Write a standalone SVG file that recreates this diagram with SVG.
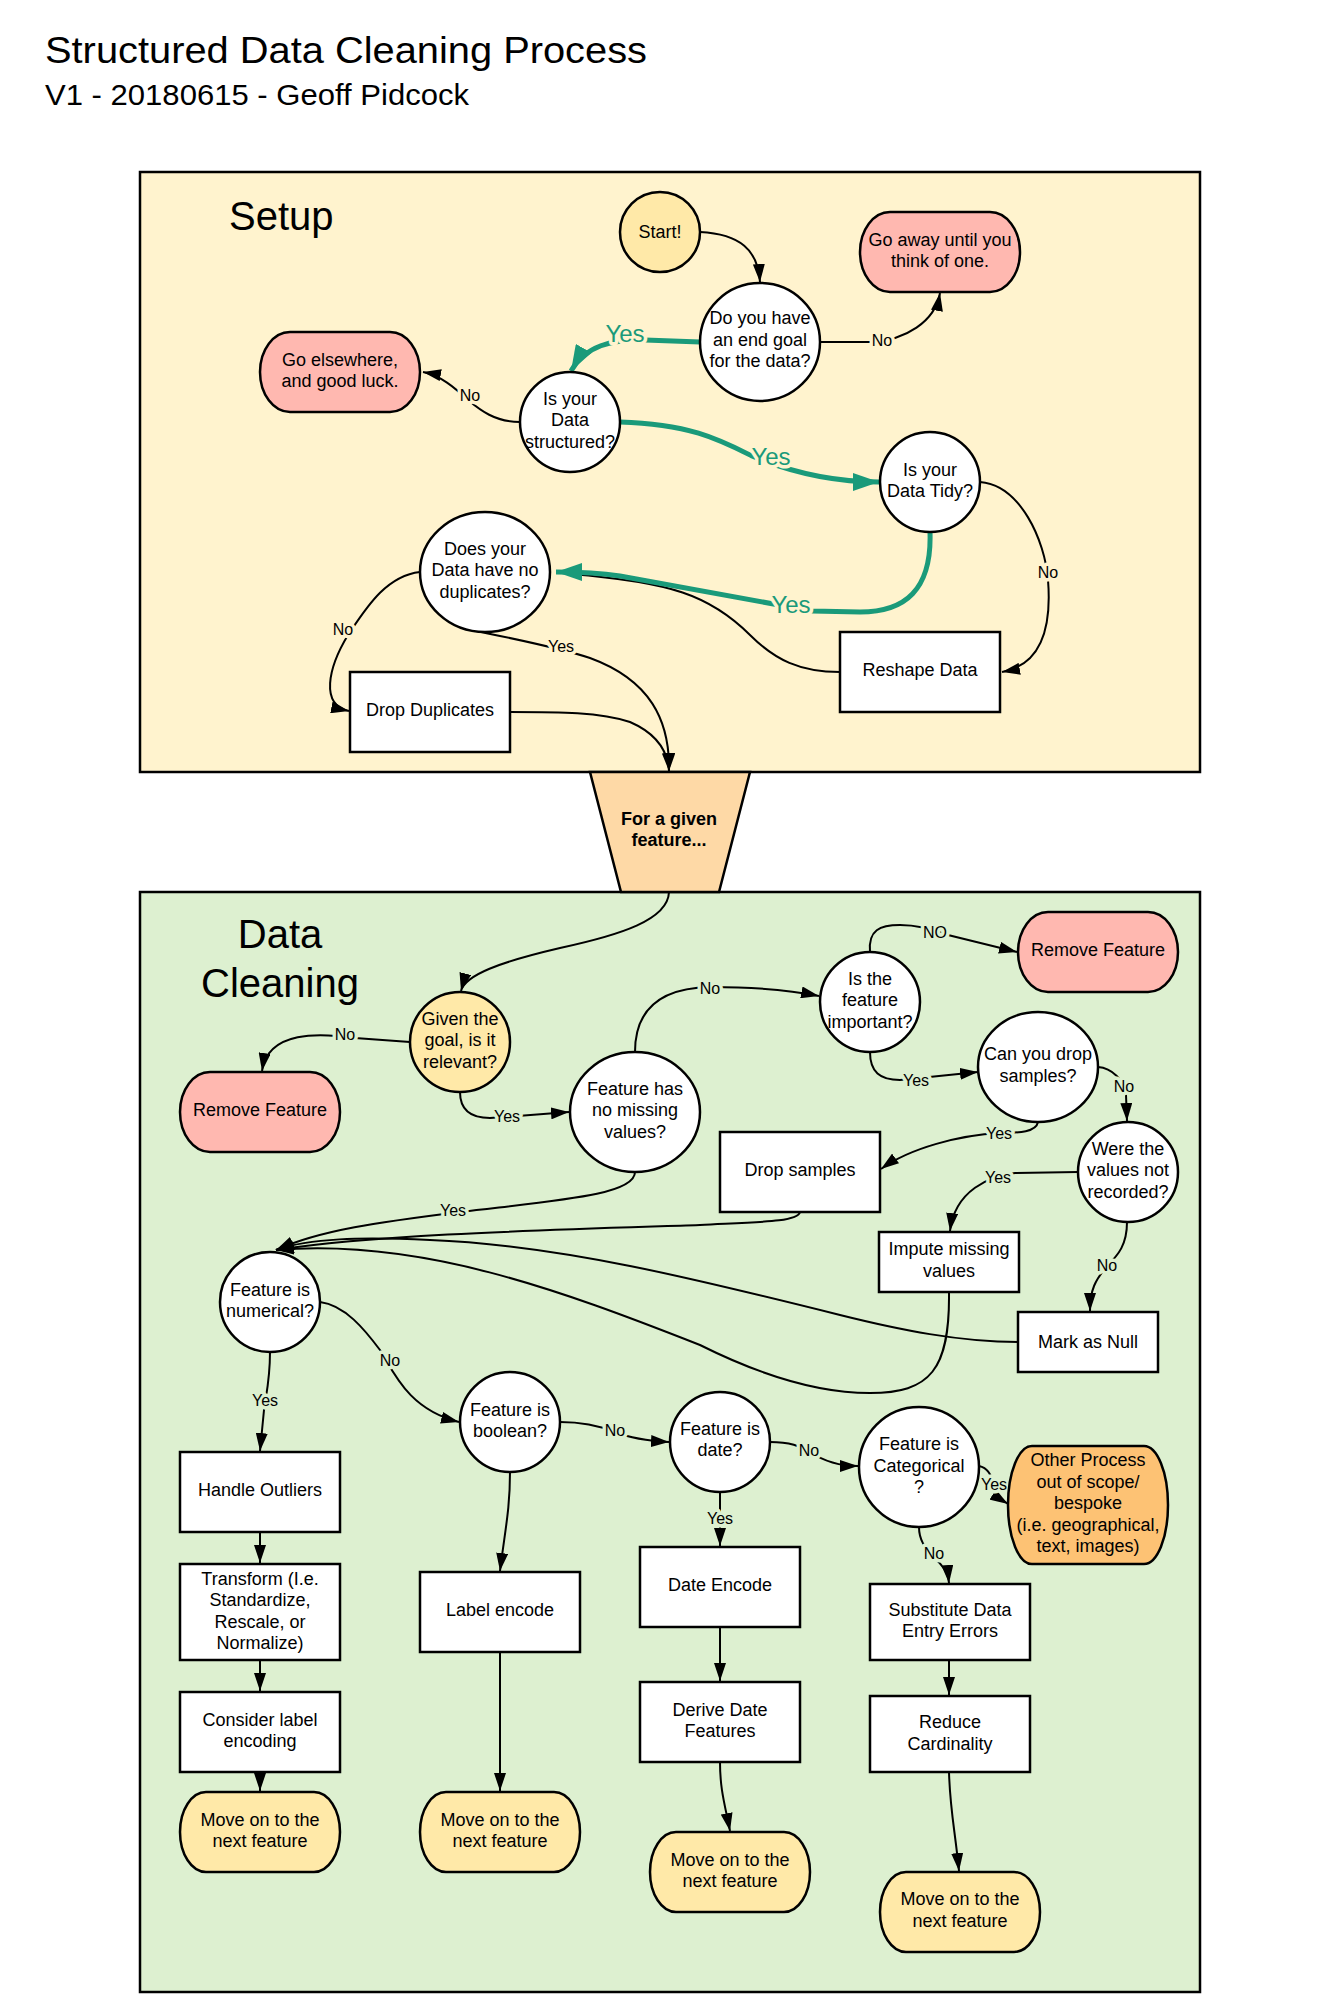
<svg xmlns="http://www.w3.org/2000/svg" width="1323" height="2016" viewBox="0 0 1323 2016">
<style>
text{font-family:"Liberation Sans",Arial,sans-serif;fill:#000}
.t{font-size:18px;text-anchor:middle}
.fb{font-size:18px;font-weight:bold;text-anchor:middle}
.sec{font-size:40px}
.sec2{font-size:40px;text-anchor:middle}
.shape{stroke:#000;stroke-width:2.5}
.w{fill:#fff}
.y{fill:#ffe9a8}
.p{fill:#ffb8b0}
.o{fill:#fdc274}
.c{fill:none;stroke:#000;stroke-width:2}
.g{fill:none;stroke:#1a9a7a;stroke-width:5}
.lbl{font-size:16px;text-anchor:middle;paint-order:stroke;stroke-width:7px;stroke-linejoin:round}
.ly{stroke:#fff3ce}
.lg{stroke:#ddf0d0}
.gy{font-size:24px;text-anchor:middle;fill:#1a9a7a;paint-order:stroke;stroke:#fff3ce;stroke-width:7px;stroke-linejoin:round}
</style>
<defs>
<marker id="ab" markerUnits="userSpaceOnUse" markerWidth="18" markerHeight="12" refX="18" refY="6" orient="auto"><path d="M0,0 L18,6 L0,12 z" fill="#000"/></marker>
<marker id="ag" markerUnits="userSpaceOnUse" markerWidth="26" markerHeight="18" refX="26" refY="9" orient="auto"><path d="M0,0 L26,9 L0,18 z" fill="#1a9a7a"/></marker>
</defs>
<rect width="1323" height="2016" fill="#fff"/>
<text x="45" y="63" style="font-size:36px" textLength="602" lengthAdjust="spacingAndGlyphs">Structured Data Cleaning Process</text>
<text x="45" y="105" style="font-size:29px" textLength="424" lengthAdjust="spacingAndGlyphs">V1 - 20180615 - Geoff Pidcock</text>

<g id="setup-container">
<rect x="140" y="172" width="1060" height="600" fill="#fff3ce" stroke="#000" stroke-width="2.5"/>
<text class="sec" x="229" y="230">Setup</text>
</g>
<g id="cleaning-container">
<rect x="140" y="892" width="1060" height="1100" fill="#ddf0d0" stroke="#000" stroke-width="2.5"/>
<text class="sec2" x="280" y="948">Data</text>
<text class="sec2" x="280" y="997">Cleaning</text>
</g>

<g id="connectors">
<path class="c" marker-end="url(#ab)" d="M700,232 C740,234 758,250 760,282"/>
<path class="c" marker-end="url(#ab)" d="M820,342 L872,342 C905,340 935,322 940,293"/>
<path class="g" marker-end="url(#ag)" d="M700,342 L645,340 C612,339 585,346 571,371"/>
<path class="c" marker-end="url(#ab)" d="M520,422 C495,422 480,410 468,400 C455,388 440,375 423,372"/>
<path class="g" marker-end="url(#ag)" d="M620,422 C690,424 720,440 752,456 C790,472 830,482 879,482"/>
<path class="c" marker-end="url(#ab)" d="M980,482 C1020,485 1045,540 1048,580 C1052,630 1040,665 1002,672"/>
<path class="c" d="M840,672 C800,672 775,660 750,635 C710,595 670,582 570,574"/>
<path class="g" marker-end="url(#ag)" d="M930,532 C932,590 905,612 860,612 L812,611 L620,576 C600,573 580,572 556,572"/>
<path class="c" marker-end="url(#ab)" d="M420,572 C385,576 365,610 348,635 C328,668 320,705 349,711"/>
<path class="c" marker-end="url(#ab)" d="M481,632 C520,640 560,648 590,658 C650,680 670,720 669,771"/>
<path class="c" marker-end="url(#ab)" d="M510,712 C560,712 600,712 630,722 C660,735 668,755 669,771"/>

<path class="c" marker-end="url(#ab)" d="M669,892 C668,920 620,935 560,948 C500,962 465,975 461,991"/>
<path class="c" marker-end="url(#ab)" d="M410,1042 L355,1038 C320,1033 268,1030 262,1071"/>
<path class="c" marker-end="url(#ab)" d="M460,1092 C460,1110 470,1118 490,1118 L569,1112"/>
<path class="c" marker-end="url(#ab)" d="M635,1052 C635,1010 660,988 710,987 C750,987 790,990 819,996"/>
<path class="c" marker-end="url(#ab)" d="M870,952 C868,930 880,925 900,925 C920,925 935,930 948,935 L1017,952"/>
<path class="c" marker-end="url(#ab)" d="M870,1052 C870,1072 880,1080 900,1080 L978,1072"/>
<path class="c" marker-end="url(#ab)" d="M1098,1067 C1112,1068 1124,1080 1126,1095 L1127,1121"/>
<path class="c" marker-end="url(#ab)" d="M1038,1122 C1036,1132 1020,1133 1000,1133 C960,1135 910,1148 881,1169"/>
<path class="c" marker-end="url(#ab)" d="M1078,1172 L1015,1173 C990,1176 955,1190 950,1231"/>
<path class="c" marker-end="url(#ab)" d="M1127,1222 C1127,1245 1118,1255 1108,1265 C1095,1280 1090,1290 1090,1311"/>
<path class="c" marker-end="url(#ab)" d="M635,1172 C635,1195 560,1200 460,1212 C380,1222 320,1230 276,1250"/>
<path class="c" marker-end="url(#ab)" d="M800,1212 C798,1222 760,1222 700,1225 C550,1230 380,1234 276,1250"/>
<path class="c" marker-end="url(#ab)" d="M1018,1342 C960,1342 900,1330 840,1315 C700,1280 560,1245 430,1240 C360,1237 310,1238 276,1250"/>
<path class="c" marker-end="url(#ab)" d="M949,1292 C950,1370 930,1393 870,1393 C820,1393 760,1375 700,1345 C560,1290 420,1238 276,1250"/>
<path class="c" marker-end="url(#ab)" d="M270,1352 C270,1380 266,1395 264,1410 L260,1451"/>
<path class="c" marker-end="url(#ab)" d="M260,1532 L260,1563"/>
<path class="c" marker-end="url(#ab)" d="M260,1660 L260,1691"/>
<path class="c" marker-end="url(#ab)" d="M260,1772 L260,1791"/>
<path class="c" marker-end="url(#ab)" d="M320,1302 C345,1305 365,1330 380,1350 C395,1375 410,1410 459,1422"/>
<path class="c" marker-end="url(#ab)" d="M510,1472 C510,1510 505,1530 500,1571"/>
<path class="c" marker-end="url(#ab)" d="M500,1652 L500,1791"/>
<path class="c" marker-end="url(#ab)" d="M560,1422 C585,1422 600,1426 615,1432 C630,1438 650,1441 669,1442"/>
<path class="c" marker-end="url(#ab)" d="M720,1492 L720,1546"/>
<path class="c" marker-end="url(#ab)" d="M720,1627 L720,1681"/>
<path class="c" marker-end="url(#ab)" d="M720,1762 C720,1790 725,1805 730,1831"/>
<path class="c" marker-end="url(#ab)" d="M770,1442 C790,1442 800,1446 810,1452 C825,1462 840,1466 858,1466"/>
<path class="c" marker-end="url(#ab)" d="M979,1466 C988,1468 992,1476 993,1485 C994,1493 1000,1499 1008,1504"/>
<path class="c" marker-end="url(#ab)" d="M919,1527 C919,1540 925,1548 933,1556 C942,1565 948,1572 949,1583"/>
<path class="c" marker-end="url(#ab)" d="M949,1660 L949,1695"/>
<path class="c" marker-end="url(#ab)" d="M949,1772 C950,1810 955,1830 959,1871"/>

<text class="lbl ly" x="882" y="345.5">No</text>
<text class="gy" x="625" y="341.5">Yes</text>
<text class="lbl ly" x="470" y="401">No</text>
<text class="gy" x="771" y="465">Yes</text>
<text class="lbl ly" x="1048" y="578">No</text>
<text class="gy" x="791" y="613">Yes</text>
<text class="lbl ly" x="343" y="635">No</text>
<text class="lbl ly" x="561" y="652">Yes</text>

<text class="lbl lg" x="345" y="1040">No</text>
<text class="lbl lg" x="507" y="1122">Yes</text>
<text class="lbl lg" x="710" y="994">No</text>
<text class="lbl lg" x="935" y="938">NO</text>
<text class="lbl lg" x="916" y="1086">Yes</text>
<text class="lbl lg" x="1124" y="1092">No</text>
<text class="lbl lg" x="999" y="1139">Yes</text>
<text class="lbl lg" x="998" y="1183">Yes</text>
<text class="lbl lg" x="1107" y="1271">No</text>
<text class="lbl lg" x="453" y="1216">Yes</text>
<text class="lbl lg" x="265" y="1406">Yes</text>
<text class="lbl lg" x="390" y="1366">No</text>
<text class="lbl lg" x="615" y="1436">No</text>
<text class="lbl lg" x="720" y="1524">Yes</text>
<text class="lbl lg" x="809" y="1456">No</text>
<text class="lbl lg" x="994" y="1490">Yes</text>
<text class="lbl lg" x="934" y="1559">No</text>
</g>

<g id="start"><circle class="shape y" cx="660" cy="232" r="40"/><text class="t" x="660" y="238">Start!</text></g>
<g id="end-goal"><ellipse class="shape w" cx="760" cy="342" rx="60" ry="59"/><text class="t" x="760" y="324">Do you have<tspan x="760" dy="21.7">an end goal</tspan><tspan x="760" dy="21.7">for the data?</tspan></text></g>
<g id="go-away"><rect class="shape p" x="860" y="212" width="160" height="80" rx="30" ry="40"/><text class="t" x="940" y="245.5">Go away until you<tspan x="940" dy="21.5">think of one.</tspan></text></g>
<g id="structured"><circle class="shape w" cx="570" cy="422" r="50"/><text class="t" x="570" y="404.5">Is your<tspan x="570" dy="21.5">Data</tspan><tspan x="570" dy="21.5">structured?</tspan></text></g>
<g id="go-elsewhere"><rect class="shape p" x="260" y="332" width="160" height="80" rx="30" ry="40"/><text class="t" x="340" y="365.5">Go elsewhere,<tspan x="340" dy="21.5">and good luck.</tspan></text></g>
<g id="tidy"><circle class="shape w" cx="930" cy="482" r="50"/><text class="t" x="930" y="475.5">Is your<tspan x="930" dy="21.5">Data Tidy?</tspan></text></g>
<g id="duplicates"><ellipse class="shape w" cx="485" cy="572" rx="65" ry="60"/><text class="t" x="485" y="554.5">Does your<tspan x="485" dy="21.5">Data have no</tspan><tspan x="485" dy="21.5">duplicates?</tspan></text></g>
<g id="reshape"><rect class="shape w" x="840" y="632" width="160" height="80"/><text class="t" x="920" y="676">Reshape Data</text></g>
<g id="drop-duplicates"><rect class="shape w" x="350" y="672" width="160" height="80"/><text class="t" x="430" y="716">Drop Duplicates</text></g>
<g id="funnel"><polygon points="590,772 750,772 719,892 621,892" fill="#fed9a6" stroke="#000" stroke-width="2.5"/><text class="fb" x="669" y="825">For a given<tspan x="669" dy="21">feature...</tspan></text></g>

<g id="relevant"><circle class="shape y" cx="460" cy="1042" r="50"/><text class="t" x="460" y="1024.5">Given the<tspan x="460" dy="21.5">goal, is it</tspan><tspan x="460" dy="21.5">relevant?</tspan></text></g>
<g id="remove-feature-1"><rect class="shape p" x="180" y="1072" width="160" height="80" rx="30" ry="40"/><text class="t" x="260" y="1116">Remove Feature</text></g>
<g id="no-missing"><ellipse class="shape w" cx="635" cy="1112" rx="65" ry="60"/><text class="t" x="635" y="1094.5">Feature has<tspan x="635" dy="21.5">no missing</tspan><tspan x="635" dy="21.5">values?</tspan></text></g>
<g id="important"><circle class="shape w" cx="870" cy="1002" r="50"/><text class="t" x="870" y="984.5">Is the<tspan x="870" dy="21.5">feature</tspan><tspan x="870" dy="21.5">important?</tspan></text></g>
<g id="remove-feature-2"><rect class="shape p" x="1018" y="912" width="160" height="80" rx="30" ry="40"/><text class="t" x="1098" y="956">Remove Feature</text></g>
<g id="can-drop"><ellipse class="shape w" cx="1038" cy="1067" rx="60" ry="55"/><text class="t" x="1038" y="1060">Can you drop<tspan x="1038" dy="21.7">samples?</tspan></text></g>
<g id="not-recorded"><circle class="shape w" cx="1128" cy="1172" r="50"/><text class="t" x="1128" y="1154.5">Were the<tspan x="1128" dy="21.5">values not</tspan><tspan x="1128" dy="21.5">recorded?</tspan></text></g>
<g id="drop-samples"><rect class="shape w" x="720" y="1132" width="160" height="80"/><text class="t" x="800" y="1176">Drop samples</text></g>
<g id="impute"><rect class="shape w" x="879" y="1232" width="140" height="60"/><text class="t" x="949" y="1255">Impute missing<tspan x="949" dy="21.7">values</tspan></text></g>
<g id="mark-null"><rect class="shape w" x="1018" y="1312" width="140" height="60"/><text class="t" x="1088" y="1348">Mark as Null</text></g>
<g id="numerical"><circle class="shape w" cx="270" cy="1302" r="50"/><text class="t" x="270" y="1295.5">Feature is<tspan x="270" dy="21.5">numerical?</tspan></text></g>
<g id="outliers"><rect class="shape w" x="180" y="1452" width="160" height="80"/><text class="t" x="260" y="1496">Handle Outliers</text></g>
<g id="transform"><rect class="shape w" x="180" y="1564" width="160" height="96"/><text class="t" x="260" y="1584.5">Transform (I.e.<tspan x="260" dy="21.5">Standardize,</tspan><tspan x="260" dy="21.5">Rescale, or</tspan><tspan x="260" dy="21.5">Normalize)</tspan></text></g>
<g id="consider-label"><rect class="shape w" x="180" y="1692" width="160" height="80"/><text class="t" x="260" y="1725.5">Consider label<tspan x="260" dy="21.5">encoding</tspan></text></g>
<g id="next-1"><rect class="shape y" x="180" y="1792" width="160" height="80" rx="26" ry="40"/><text class="t" x="260" y="1825.5">Move on to the<tspan x="260" dy="21.5">next feature</tspan></text></g>
<g id="boolean"><circle class="shape w" cx="510" cy="1422" r="50"/><text class="t" x="510" y="1415.5">Feature is<tspan x="510" dy="21">boolean?</tspan></text></g>
<g id="label-encode"><rect class="shape w" x="420" y="1572" width="160" height="80"/><text class="t" x="500" y="1616">Label encode</text></g>
<g id="next-2"><rect class="shape y" x="420" y="1792" width="160" height="80" rx="26" ry="40"/><text class="t" x="500" y="1825.5">Move on to the<tspan x="500" dy="21.5">next feature</tspan></text></g>
<g id="date"><circle class="shape w" cx="720" cy="1442" r="50"/><text class="t" x="720" y="1434.5">Feature is<tspan x="720" dy="21.5">date?</tspan></text></g>
<g id="date-encode"><rect class="shape w" x="640" y="1547" width="160" height="80"/><text class="t" x="720" y="1591">Date Encode</text></g>
<g id="derive-date"><rect class="shape w" x="640" y="1682" width="160" height="80"/><text class="t" x="720" y="1715.5">Derive Date<tspan x="720" dy="21.5">Features</tspan></text></g>
<g id="next-3"><rect class="shape y" x="650" y="1832" width="160" height="80" rx="26" ry="40"/><text class="t" x="730" y="1865.5">Move on to the<tspan x="730" dy="21.5">next feature</tspan></text></g>
<g id="categorical"><circle class="shape w" cx="919" cy="1467" r="60"/><text class="t" x="919" y="1450">Feature is<tspan x="919" dy="21.5">Categorical</tspan><tspan x="919" dy="21.5">?</tspan></text></g>
<g id="other-process"><rect class="shape o" x="1008" y="1446" width="160" height="118" rx="24" ry="59"/><text class="t" x="1088" y="1466">Other Process<tspan x="1088" dy="21.6">out of scope/</tspan><tspan x="1088" dy="21.6">bespoke</tspan><tspan x="1088" dy="21.6">(i.e. geographical,</tspan><tspan x="1088" dy="21.6">text, images)</tspan></text></g>
<g id="substitute"><rect class="shape w" x="870" y="1584" width="160" height="76"/><text class="t" x="950" y="1615.5">Substitute Data<tspan x="950" dy="21.5">Entry Errors</tspan></text></g>
<g id="reduce"><rect class="shape w" x="870" y="1696" width="160" height="76"/><text class="t" x="950" y="1728">Reduce<tspan x="950" dy="21.5">Cardinality</tspan></text></g>
<g id="next-4"><rect class="shape y" x="880" y="1872" width="160" height="80" rx="26" ry="40"/><text class="t" x="960" y="1905">Move on to the<tspan x="960" dy="21.5">next feature</tspan></text></g>
</svg>
